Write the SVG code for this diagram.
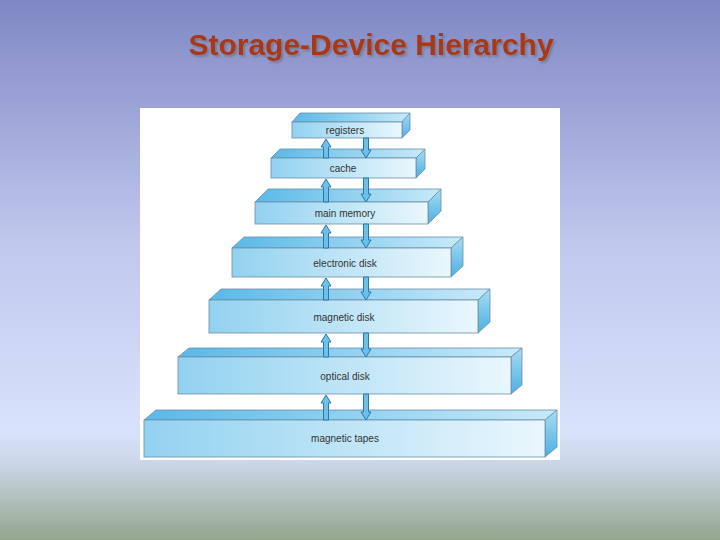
<svg xmlns="http://www.w3.org/2000/svg" width="720" height="540" viewBox="0 0 720 540">
<defs>
<linearGradient id="bg" x1="0" y1="0" x2="0" y2="1">
<stop offset="0" stop-color="#8088c4"/>
<stop offset="0.45" stop-color="#c0c8ee"/>
<stop offset="0.8" stop-color="#d8e2fb"/>
<stop offset="0.86" stop-color="#cad6e6"/>
<stop offset="1" stop-color="#93a68c"/>
</linearGradient>
<linearGradient id="front" x1="0" y1="0" x2="1" y2="0">
<stop offset="0" stop-color="#92d2f0"/>
<stop offset="1" stop-color="#eaf7fd"/>
</linearGradient>
<linearGradient id="top" x1="0" y1="0" x2="1" y2="0">
<stop offset="0" stop-color="#5ab8e8"/>
<stop offset="1" stop-color="#c8eaf9"/>
</linearGradient>
<linearGradient id="side" x1="0" y1="0" x2="0" y2="1">
<stop offset="0" stop-color="#a8dcf4"/>
<stop offset="1" stop-color="#4cb0e2"/>
</linearGradient>
<filter id="sh" x="-5%" y="-20%" width="110%" height="140%">
<feDropShadow dx="2" dy="2" stdDeviation="0.8" flood-color="#6a6a6a" flood-opacity="0.6"/>
</filter>
</defs>
<style>
.f{fill:url(#front);stroke:#6a8ea8;stroke-width:0.8}
.t{fill:url(#top);stroke:#6a8ea8;stroke-width:0.8}
.s{fill:url(#side);stroke:#6a8ea8;stroke-width:0.8}
.lbl{font-family:"Liberation Sans",Arial,sans-serif;font-size:10px;fill:#333;text-anchor:middle}
.ar{fill:#6cc0ea;stroke:#2a78a8;stroke-width:1}
</style>
<rect width="720" height="540" fill="url(#bg)"/>
<text x="371" y="55" font-family="Liberation Sans,Arial,sans-serif" font-size="30" font-weight="bold" fill="#a83818" text-anchor="middle" filter="url(#sh)">Storage-Device Hierarchy</text>
<rect x="140" y="108" width="420" height="352" fill="#ffffff"/>
<g id="registers">
<polygon class="t" points="292,122 300,113 410,113 402,122"/>
<polygon class="s" points="402,122 410,113 410,130 402,138"/>
<rect class="f" x="292" y="122" width="110" height="16"/>
<text class="lbl" x="345" y="134">registers</text>
</g>
<g id="cache">
<polygon class="t" points="271,158 280,149 425,149 416,158"/>
<polygon class="s" points="416,158 425,149 425,169 416,178"/>
<rect class="f" x="271" y="158" width="145" height="20"/>
<text class="lbl" x="343" y="172">cache</text>
</g>
<g id="main_memory">
<polygon class="t" points="255,202 268,189 441,189 428,202"/>
<polygon class="s" points="428,202 441,189 441,211 428,224"/>
<rect class="f" x="255" y="202" width="173" height="22"/>
<text class="lbl" x="345" y="217">main memory</text>
</g>
<g id="electronic_disk">
<polygon class="t" points="232,248 244,237 463,237 451,248"/>
<polygon class="s" points="451,248 463,237 463,266 451,277"/>
<rect class="f" x="232" y="248" width="219" height="29"/>
<text class="lbl" x="345" y="267">electronic disk</text>
</g>
<g id="magnetic_disk">
<polygon class="t" points="209,300 221,289 490,289 478,300"/>
<polygon class="s" points="478,300 490,289 490,322 478,333"/>
<rect class="f" x="209" y="300" width="269" height="33"/>
<text class="lbl" x="344" y="321">magnetic disk</text>
</g>
<g id="optical_disk">
<polygon class="t" points="178,357 189,348 522,348 511,357"/>
<polygon class="s" points="511,357 522,348 522,385 511,394"/>
<rect class="f" x="178" y="357" width="333" height="37"/>
<text class="lbl" x="345" y="380">optical disk</text>
</g>
<g id="magnetic_tapes">
<polygon class="t" points="144,420 156,410 557,410 545,420"/>
<polygon class="s" points="545,420 557,410 557,447 545,457"/>
<rect class="f" x="144" y="420" width="401" height="37"/>
<text class="lbl" x="345" y="442">magnetic tapes</text>
</g>
<g id="connectors">
<polygon class="ar" points="326,139 331,147 328.5,147 328.5,158 323.5,158 323.5,147 321,147"/>
<polygon class="ar" points="366,158 371,150 368.5,150 368.5,138 363.5,138 363.5,150 361,150"/>
<polygon class="ar" points="326,179 331,187 328.5,187 328.5,202 323.5,202 323.5,187 321,187"/>
<polygon class="ar" points="366,202 371,194 368.5,194 368.5,178 363.5,178 363.5,194 361,194"/>
<polygon class="ar" points="326,225 331,233 328.5,233 328.5,248 323.5,248 323.5,233 321,233"/>
<polygon class="ar" points="366,248 371,240 368.5,240 368.5,224 363.5,224 363.5,240 361,240"/>
<polygon class="ar" points="326,278 331,286 328.5,286 328.5,300 323.5,300 323.5,286 321,286"/>
<polygon class="ar" points="366,300 371,292 368.5,292 368.5,277 363.5,277 363.5,292 361,292"/>
<polygon class="ar" points="326,334 331,342 328.5,342 328.5,357 323.5,357 323.5,342 321,342"/>
<polygon class="ar" points="366,357 371,349 368.5,349 368.5,333 363.5,333 363.5,349 361,349"/>
<polygon class="ar" points="326,395 331,403 328.5,403 328.5,420 323.5,420 323.5,403 321,403"/>
<polygon class="ar" points="366,420 371,412 368.5,412 368.5,394 363.5,394 363.5,412 361,412"/>
</g>
</svg>
